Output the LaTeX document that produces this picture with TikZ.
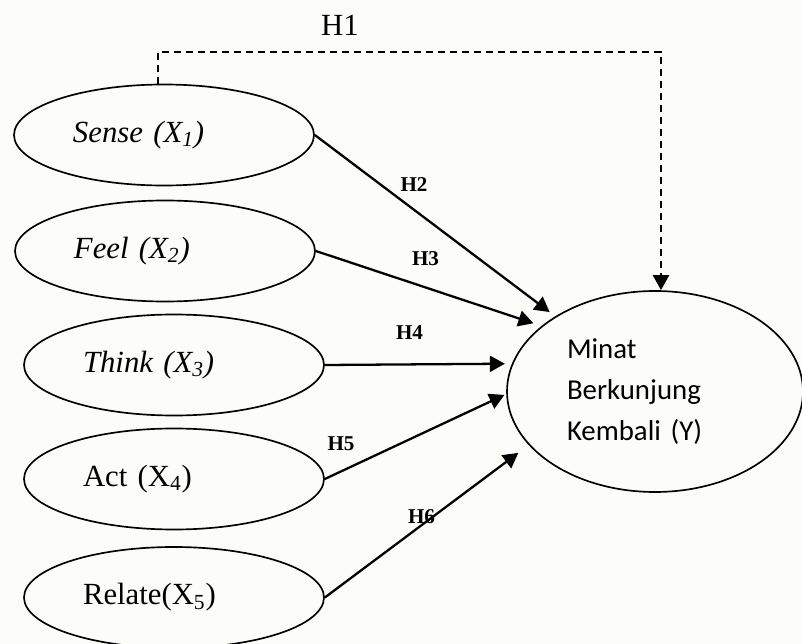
\documentclass[tikz,border=0pt]{standalone}
\usepackage{fontspec}
\setmainfont{Liberation Serif}
\newfontfamily\calibri{Carlito}
\usetikzlibrary{positioning, shapes.geometric, arrows.meta, calc}
\definecolor{paper}{RGB}{252,253,248}

\begin{document}
\begin{tikzpicture}[
  var/.style={ellipse, draw, line width=0.95pt, minimum width=6cm, minimum height=2.02cm, text width=3.64cm, align=left, font=\fontsize{17.5}{21}\selectfont},
  target/.style={ellipse, draw, line width=0.95pt, minimum width=5.92cm, minimum height=4.02cm, text width=3.52cm, align=left, font=\calibri\fontsize{16.4}{23.2}\selectfont},
  arr/.style={-{Triangle[length=0.3cm, width=0.32cm]}, line width=1.3pt},
  hyp/.style={font=\bfseries\fontsize{12}{14}\selectfont},
  note/.style={font=\fontsize{17.5}{21}\selectfont}
]
  \useasboundingbox[fill=paper] (0,0) rectangle (16.04,-12.88);

  \node[var] (sense) at (3.28,-2.70) {\textit{Sense (X\textsubscript{1})}};
  \node[var] (feel) at (3.30,-5.02) {\textit{Feel (X\textsubscript{2})}};
  \node[var] (think) at (3.48,-7.30) {\textit{Think (X\textsubscript{3})}};
  \node[var] (act) at (3.48,-9.58) {Act (X\textsubscript{4})};
  \node[var] (relate) at (3.48,-11.95) {Relate(X\textsubscript{5})};
  \node[target] (minat) at (13.10,-7.83) {Minat\\Berkunjung\\Kembali (Y)};

  \draw[arr, shorten >=0.14cm] (sense.east) -- (minat);
  \draw[arr, shorten >=0.17cm] (feel.east) -- (minat.150.8);
  \draw[arr, shorten >=0.14cm] (think.east) -- (minat.169.5);
  \draw[arr, shorten >=0.04cm] (act.east) -- (minat.181);
  \draw[arr, shorten >=0.26cm] (relate.east) -- (minat.203.3);

  % direct path H1
  \coordinate (h1turn) at (6.80,-1.04);
  \draw[arr, dash pattern=on 0.14cm off 0.1cm] ([xshift=-0.12cm]sense.north) |- (h1turn) -| ([xshift=0.12cm]minat.north);
  \node[note] (h1) at (6.80,-0.50) {H1};

  % hypothesis labels
  \node[hyp] (h2) at (8.28,-3.70) {H2};
  \node[hyp] (h3) at (8.51,-5.18) {H3};
  \node[hyp] (h4) at (8.19,-6.66) {H4};
  \node[hyp] (h5) at (6.82,-8.87) {H5};
  \node[hyp] (h6) at (8.43,-10.33) {H6};
\end{tikzpicture}
\end{document}
